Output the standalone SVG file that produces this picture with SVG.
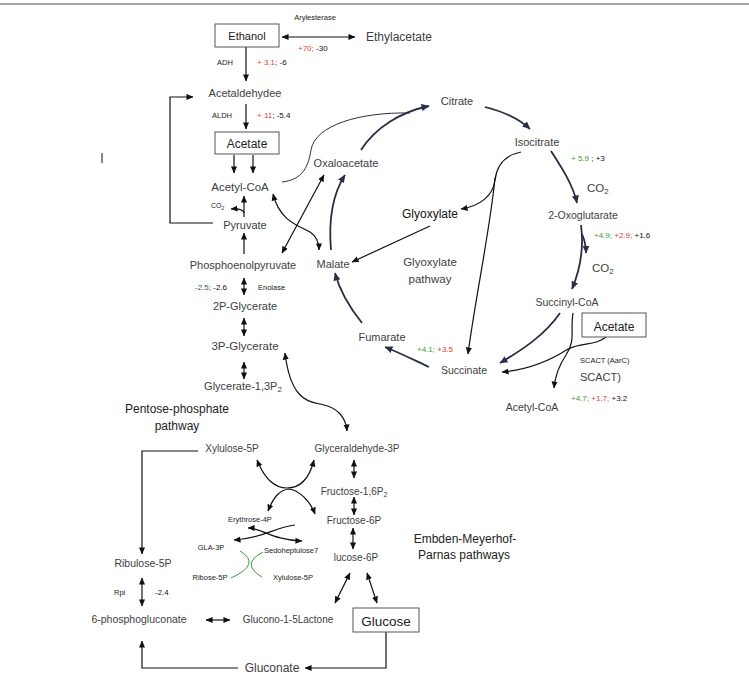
<svg xmlns="http://www.w3.org/2000/svg" width="749" height="687" viewBox="0 0 749 687">
<defs>
<marker id="ah" viewBox="0 0 8 8" refX="7.5" refY="4" markerWidth="7" markerHeight="7" markerUnits="userSpaceOnUse" orient="auto-start-reverse"><path d="M0,0.5 L8,4 L0,7.5 z" fill="#111"/></marker>
<marker id="an" viewBox="0 0 8 8" refX="7.5" refY="4" markerWidth="8" markerHeight="8" markerUnits="userSpaceOnUse" orient="auto-start-reverse"><path d="M0,0.5 L8,4 L0,7.5 z" fill="#2a2e45"/></marker>
</defs>
<style>
text{font-family:"Liberation Sans",Arial,sans-serif;fill:#404040}
.n{font-size:11px;text-anchor:middle}
.s{font-size:10px;text-anchor:middle}
.t{font-size:7.5px;fill:#222}
.v{font-size:8px;fill:#111}
.b{font-size:12px;text-anchor:middle;fill:#222}
.g{fill:#3a9a3a}
.r{fill:#e53935}
.k{fill:#111}
.box{fill:#fff;stroke:#555;stroke-width:1}
.l{fill:none;stroke:#111;stroke-width:1.2}
.c{fill:none;stroke:#2a2e45;stroke-width:1.8}
.tn{fill:none;stroke:#2a2e45;stroke-width:1}
.gr{fill:none;stroke:#3a9a3a;stroke-width:1}
</style>
<rect width="749" height="687" fill="#fff"/>
<line x1="0" y1="4" x2="749" y2="4" stroke="#888" stroke-width="1.5"/>
<line x1="102" y1="153" x2="102" y2="163" stroke="#111" stroke-width="1"/>

<g id="connectors">
<line class="l" x1="282" y1="37" x2="355" y2="37" marker-start="url(#ah)" marker-end="url(#ah)"/>
<line class="l" x1="246" y1="47" x2="246" y2="81" marker-end="url(#ah)"/>
<line class="l" x1="246" y1="104" x2="246" y2="129" marker-end="url(#ah)"/>
<line class="l" x1="234" y1="155" x2="234" y2="173" marker-end="url(#ah)"/>
<line class="l" x1="253" y1="155" x2="253" y2="173" marker-end="url(#ah)"/>
<line class="l" x1="244" y1="217" x2="244" y2="196" marker-end="url(#ah)"/>
<path class="l" d="M244,213 Q243,208 231,209" marker-end="url(#ah)"/>
<path class="l" d="M213,223 L170,223 L170,97 L193,97" stroke="#555" marker-end="url(#ah)"/>
<line class="l" x1="244" y1="254" x2="244" y2="233" marker-end="url(#ah)"/>
<line class="l" x1="244" y1="278" x2="244" y2="295" marker-start="url(#ah)" marker-end="url(#ah)"/>
<line class="l" x1="244" y1="318" x2="244" y2="336" marker-start="url(#ah)" marker-end="url(#ah)"/>
<line class="l" x1="244" y1="362" x2="244" y2="379" marker-start="url(#ah)" marker-end="url(#ah)"/>
<path class="l" d="M285,353 C290,395 305,402 320,404 C338,407 346,418 347,431" marker-start="url(#ah)" marker-end="url(#ah)"/>
<path class="tn" d="M282,182 C300,180 308,170 311,150 C315,125 360,112 410,113"/>
<path class="c" d="M361,150 C375,128 400,112 429,106" marker-end="url(#an)"/>
<path class="c" d="M485,107 C505,112 518,118 530,129" marker-end="url(#an)"/>
<path class="c" d="M551,151 C562,168 573,185 577,203" marker-end="url(#an)"/>
<path class="c" d="M581,225 C584,248 580,270 572,289" marker-end="url(#an)"/>
<path class="c" d="M582,234 C585,241 586,246 586,253" stroke-width="1.2" marker-end="url(#an)"/>
<path class="c" d="M560,313 C545,335 522,350 500,363" marker-end="url(#an)"/>
<path class="l" d="M606,337 C595,346 582,342 568,349 C548,362 525,370 502,372" marker-end="url(#ah)"/>
<path class="l" d="M573,313 C570,332 576,340 566,355 C558,367 555,377 554,388" marker-end="url(#ah)"/>
<path class="c" d="M429,367 C414,360 400,353 385,347" marker-end="url(#an)"/>
<path class="c" d="M362,323 C350,308 340,292 335,273" marker-end="url(#an)"/>
<path class="c" d="M331,250 C328,215 334,192 345,175" marker-end="url(#an)"/>
<path class="l" d="M521,152 C506,155 497,163 495,180 C493,196 480,206 461,209" stroke-width="1.6" marker-end="url(#ah)"/>
<path class="l" d="M495,178 C490,230 475,300 468,354" stroke-width="1.6" marker-end="url(#ah)"/>
<line class="l" x1="430" y1="226" x2="352" y2="262" stroke-width="1.6" marker-end="url(#ah)"/>
<path class="l" d="M273,194 C280,222 300,226 310,232 C316,236 319,242 319,250" marker-start="url(#ah)" marker-end="url(#ah)"/>
<line class="l" x1="282" y1="253" x2="324" y2="175" marker-start="url(#ah)" marker-end="url(#ah)"/>
<path class="l" d="M198,451 L142,451 L142,554" stroke="#555" marker-end="url(#ah)"/>
<path class="l" d="M257,460 C265,480 275,488 287,488 C299,488 309,480 314,460" marker-start="url(#ah)" marker-end="url(#ah)"/>
<path class="l" d="M268,511 C274,496 280,490 289,489 C298,490 310,500 315,514" marker-start="url(#ah)" marker-end="url(#ah)"/>
<line class="l" x1="354" y1="460" x2="354" y2="478" marker-start="url(#ah)" marker-end="url(#ah)"/>
<line class="l" x1="354" y1="497" x2="354" y2="515" marker-start="url(#ah)" marker-end="url(#ah)"/>
<line class="l" x1="353" y1="528" x2="353" y2="549" marker-start="url(#ah)" marker-end="url(#ah)"/>
<line class="l" x1="350" y1="573" x2="335" y2="603" marker-start="url(#ah)" marker-end="url(#ah)"/>
<line class="l" x1="367" y1="573" x2="377" y2="603" marker-start="url(#ah)" marker-end="url(#ah)"/>
<path class="l" d="M386,632 L386,668 L305,668" marker-end="url(#ah)"/>
<path class="l" d="M238,668 L142,668 L142,641" marker-end="url(#ah)"/>
<line class="l" x1="206" y1="620" x2="230" y2="620" marker-start="url(#ah)" marker-end="url(#ah)"/>
<line class="l" x1="142" y1="578" x2="142" y2="606" marker-start="url(#ah)" marker-end="url(#ah)"/>
<path class="l" d="M248,528 C262,528 272,540 302,541" marker-start="url(#ah)" marker-end="url(#ah)"/>
<path class="l" d="M295,525 C275,527 265,538 234,540" marker-end="url(#ah)"/>
<path class="gr" d="M240,551 Q262,564 231,578"/>
<path class="gr" d="M263,552 Q240,564 262,577"/>
</g>

<g id="ethanol"><rect class="box" x="215" y="24" width="64" height="23"/><text class="n" x="247" y="40" style="fill:#222">Ethanol</text></g>
<g id="arylesterase"><text class="t" x="315" y="20" text-anchor="middle">Arylesterase</text></g>
<g id="ethylacetate"><text class="b" x="399" y="41" style="fill:#404040">Ethylacetate</text></g>
<g id="v-aryl"><text class="v" x="298" y="51"><tspan class="r">+70;</tspan> -30</text></g>
<g id="adh"><text class="t" x="217" y="65">ADH</text><text class="v" x="257" y="65"><tspan class="r">+ 3.1</tspan>; -6</text></g>
<g id="acetaldehyde"><text class="n" x="245" y="97">Acetaldehydee</text></g>
<g id="aldh"><text class="t" x="212" y="118">ALDH</text><text class="v" x="257" y="118"><tspan class="r">+ 11</tspan>; -5.4</text></g>
<g id="acetate1"><rect class="box" x="215" y="132" width="64" height="22"/><text class="b" x="247" y="148">Acetate</text></g>
<g id="acetylcoa1"><text class="n" x="240" y="191" style="font-size:11.5px">Acetyl-CoA</text></g>
<g id="co2a"><text class="t" x="211" y="208" style="font-size:7px">CO<tspan font-size="5" dy="1.5">2</tspan></text></g>
<g id="pyruvate"><text class="n" x="245" y="229">Pyruvate</text></g>
<g id="pep"><text class="n" x="243" y="269">Phosphoenolpyruvate</text></g>
<g id="enolase"><text class="v" x="195" y="290"><tspan fill="#2e6b2e">-2.5</tspan>; -2.6</text><text class="t" x="258" y="290">Enolase</text></g>
<g id="p2g"><text class="n" x="245" y="310">2P-Glycerate</text></g>
<g id="p3g"><text class="n" x="245" y="350" style="font-size:11.5px">3P-Glycerate</text></g>
<g id="g13p"><text class="n" x="243" y="390">Glycerate-1,3P<tspan font-size="8" dy="2">2</tspan></text></g>
<g id="ppp-label"><text class="b" x="177" y="413">Pentose-phosphate</text><text class="b" x="177" y="430">pathway</text></g>
<g id="xylulose5p"><text class="s" x="232" y="452">Xylulose-5P</text></g>
<g id="ga3p"><text class="s" x="357" y="452">Glyceraldehyde-3P</text></g>
<g id="f16p"><text class="s" x="354" y="495">Fructose-1,6P<tspan font-size="7" dy="2">2</tspan></text></g>
<g id="e4p"><text class="t" x="250" y="522" text-anchor="middle">Erythrose-4P</text></g>
<g id="f6p"><text class="s" x="354" y="524">Fructose-6P</text></g>
<g id="gla3p"><text class="t" x="211" y="550" text-anchor="middle">GLA-3P</text></g>
<g id="sedo"><text class="t" x="264" y="553">Sedoheptulose7</text></g>
<g id="g6p"><text class="s" x="356" y="561">lucose-6P</text></g>
<g id="emp-label"><text class="b" x="465" y="543">Embden-Meyerhof-</text><text class="b" x="464" y="559">Parnas pathways</text></g>
<g id="ribulose5p"><text class="s" x="143" y="567" style="font-size:10.5px">Ribulose-5P</text></g>
<g id="ribose5p"><text class="t" x="210" y="580" text-anchor="middle">Ribose-5P</text></g>
<g id="xylulose5p2"><text class="t" x="293" y="580" text-anchor="middle">Xylulose-5P</text></g>
<g id="rpi"><text class="t" x="114" y="595">Rpi</text><text class="v" x="155" y="595">-2.4</text></g>
<g id="pg6"><text class="s" x="139" y="623" style="font-size:10.5px">6-phosphogluconate</text></g>
<g id="glucono"><text class="s" x="288" y="623">Glucono-1-5Lactone</text></g>
<g id="glucose"><rect class="box" x="353" y="608" width="66" height="24"/><text class="b" x="386" y="626" style="font-size:13.5px">Glucose</text></g>
<g id="gluconate"><text class="b" x="272" y="672" style="fill:#404040">Gluconate</text></g>
<g id="citrate"><text class="n" x="457" y="105">Citrate</text></g>
<g id="oxaloacetate"><text class="n" x="346" y="167">Oxaloacetate</text></g>
<g id="isocitrate"><text class="n" x="537" y="146">Isocitrate</text></g>
<g id="v-iso"><text class="v" x="571" y="161"><tspan class="g">+ 5.9</tspan> ; +3</text></g>
<g id="co2b"><text x="587" y="192" style="font-size:11.5px">CO<tspan font-size="8" dy="2">2</tspan></text></g>
<g id="oxoglutarate"><text class="n" x="583" y="219" style="font-size:10.5px">2-Oxoglutarate</text></g>
<g id="v-oxo"><text class="v" x="594" y="238"><tspan class="g">+4.9;</tspan> <tspan class="r">+2.9;</tspan> +1.6</text></g>
<g id="co2c"><text x="592" y="272" style="font-size:11.5px">CO<tspan font-size="8" dy="2">2</tspan></text></g>
<g id="succinylcoa"><text class="n" x="567" y="306" style="font-size:10.5px">Succinyl-CoA</text></g>
<g id="acetate2"><rect class="box" x="582" y="313" width="64" height="24"/><text class="b" x="614" y="331">Acetate</text></g>
<g id="glyoxylate"><text class="b" x="430" y="218" style="fill:#111">Glyoxylate</text></g>
<g id="gly-label"><text class="n" x="430" y="266" style="font-size:11.5px">Glyoxylate</text><text class="n" x="430" y="283" style="font-size:11.5px">pathway</text></g>
<g id="malate"><text class="n" x="333" y="268">Malate</text></g>
<g id="fumarate"><text class="n" x="382" y="341">Fumarate</text></g>
<g id="v-fum"><text class="v" x="417" y="352"><tspan class="g">+4.1;</tspan> <tspan class="r">+3.5</tspan></text></g>
<g id="succinate"><text class="n" x="464" y="374" style="font-size:10.5px">Succinate</text></g>
<g id="scact"><text class="t" x="580" y="363">SCACT (AarC)</text><text x="580" y="381" style="font-size:11px">SCACT)</text></g>
<g id="v-scact"><text class="v" x="571" y="401"><tspan class="g">+4.7;</tspan> <tspan class="r">+1.7;</tspan> +3.2</text></g>
<g id="acetylcoa2"><text class="n" x="532" y="411" style="font-size:10.5px">Acetyl-CoA</text></g>
</svg>
